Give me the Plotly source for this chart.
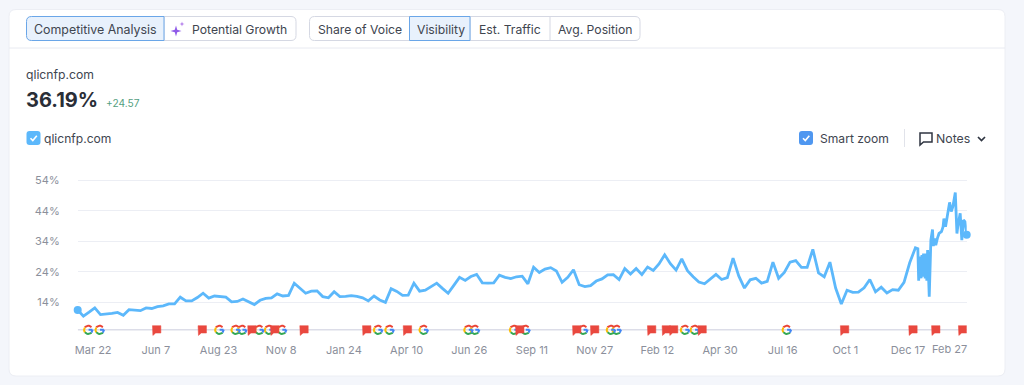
import math
import pandas as pd
import plotly.graph_objects as go

start_date = "2023-03-03"
weekly_values = [
 11.5,9.5,10.8,12.2,10,10.1,10.4,10.7,9.8,11.6,11.5,11.3,12.2,12,12.6,12.9,13.5,13.5,15.7,14.5,14.5,15.6,17,15.4,16.1,15.9,15.7,14.2,14.3,15.1,14.3,13.3,14.7,15.3,15.5,16.8,16.1,16.3,20.3,18.7,17,17.7,17.8,15.9,15.5,17.5,15.9,16,16.2,16,15.5,
 14.5,16.1,14.8,14,18.5,17.6,16.3,16.4,20.3,17.7,18,19.2,20.3,18.6,17,19.6,22.2,21.2,22.5,23.2,20.4,20.3,20.4,22.9,22.2,21.8,22.4,22.6,20.1,25.5,23.8,24.9,25.4,24.3,20.6,22.2,24.7,19.8,19.2,19.5,21,21.7,23,23.1,21.5,25.1,23.3,25.1,23.1,25.6,24.5,26.6,29.6,26.7,24.6,28.3,24.4,22.4,
 20.7,20.1,21.7,23.2,21.5,22.1,28.5,22.7,18.7,21.4,21.9,20.3,20.9,27.2,21.9,23.8,27.2,27.7,25.5,25.5,31.4,23.7,22.4,27.2,18.7,13.5,18,17.3,17.4,18.8,21.5,17.5,19,17.1,18.2,18,20.6,27,31.9]
recent_anchor = "2025-12-29"
recent_days = [0,1,2,4,5,6,7,9,10,11,12,14,16,18,19,21,22,24,26,29,31,32,34,36,38,39,41,43,46,48,49,52,54,56,58,60]
recent_values = [31.6,21.1,29,21.9,29.5,22.4,30,21.9,30,21.1,31.2,15.9,34.4,37.9,32.5,35,32.8,35,36.6,37.2,38.8,41.5,38.8,42,46.5,46.8,43.8,45.4,50,36.6,38.8,43.2,34.4,41,40.4,36.19]

tick_dates = ["2023-03-22","2023-06-07","2023-08-23","2023-11-08","2024-01-24","2024-04-10","2024-06-26","2024-09-11","2024-11-27","2025-02-12","2025-04-30","2025-07-16","2025-10-01","2025-12-17"]
tick_labels = ["Mar 22","Jun 7","Aug 23","Nov 8","Jan 24","Apr 10","Jun 26","Sep 11","Nov 27","Feb 12","Apr 30","Jul 16","Oct 1","Dec 17"]
y_ticks = [14,24,34,44,54]
y_labels = ["14%","24%","34%","44%","54%"]
google_dates = ["2023-03-16","2023-03-30","2023-08-24","2023-09-13","2023-09-21","2023-10-12","2023-10-24","2023-11-09","2024-03-06","2024-03-20","2024-05-01","2024-06-25","2024-07-03","2024-08-20","2024-09-03","2024-11-13","2024-12-17","2024-12-24","2025-03-18","2025-03-30","2025-07-21"]
note_dates = ["2023-06-08","2023-08-03","2023-10-03","2023-10-31","2023-12-06","2024-02-21","2024-04-11","2024-08-27","2024-11-05","2024-11-27","2025-02-05","2025-02-23","2025-03-04","2025-04-08","2025-09-30","2025-12-23","2026-01-20","2026-02-22"]
marker_level = 5

W, H = 1024, 385
BLUE = "#5cb8fb"
PX_PER_DAY, PX_PER_PCT = 0.814, 3.05
P = lambda x: x / W
Q = lambda y: 1 - y / H

dates = list(pd.date_range(start_date, periods=len(weekly_values), freq="7D"))
dates += [pd.Timestamp(recent_anchor) + pd.Timedelta(days=d) for d in recent_days]
values = weekly_values + recent_values

def icon_xy(date, dx, dy):
    return pd.Timestamp(date) + pd.Timedelta(days=dx / PX_PER_DAY), marker_level - dy / PX_PER_PCT

fig = go.Figure()
# baseline
fig.add_trace(go.Scatter(x=[dates[0], pd.Timestamp("2026-02-27")], y=[marker_level] * 2, mode="lines",
                         line=dict(color="#dcdde8", width=1.5), hoverinfo="skip"))
# Google marks
arcs = {"#ea4335": (40, 145), "#fbbc05": (145, 215), "#34a853": (215, 320), "#4285f4": (320, 362)}
R = 4.2
for col, (a0, a1) in arcs.items():
    xs, ys = [], []
    for d in google_dates:
        for i in range(9):
            t = math.radians(a0 + (a1 - a0) * i / 8)
            px, py = icon_xy(d, R * math.cos(t), -R * math.sin(t))
            xs.append(px); ys.append(py)
        if col == "#4285f4":
            px, py = icon_xy(d, R, 0); xs.append(px); ys.append(py)
            px, py = icon_xy(d, 0.3, 0); xs.append(px); ys.append(py)
        xs.append(None); ys.append(None)
    fig.add_trace(go.Scatter(x=xs, y=ys, mode="lines", line=dict(color=col, width=2), hoverinfo="skip", connectgaps=False))
# Notes flags
bubble = [(-4.2, -4.2), (4.2, -4.2), (4.2, 3.2), (-1, 3.2), (-3.8, 5.6), (-3.8, 3.2), (-4.2, 3.2), (-4.2, -4.2)]
xs, ys = [], []
for d in note_dates:
    for dx, dy in bubble:
        px, py = icon_xy(d, dx, dy)
        xs.append(px); ys.append(py)
    xs.append(None); ys.append(None)
fig.add_trace(go.Scatter(x=xs, y=ys, mode="lines", fill="toself", fillcolor="#e9483f",
                         line=dict(color="#e9483f", width=0.5), hoverinfo="skip"))
# Main series
fig.add_trace(go.Scatter(x=dates, y=values, mode="lines", line=dict(color=BLUE, width=2.8, shape="linear"), name="qlicnfp.com"))
fig.add_trace(go.Scatter(x=[dates[0], dates[-1]], y=[values[0], values[-1]], mode="markers",
                         marker=dict(color=BLUE, size=8), cliponaxis=False, hoverinfo="skip"))

def rrect(x0, y0, x1, y1, r=(5, 5, 5, 5)):
    tl, tr, br, bl = r
    return (f"M {P(x0+tl)} {Q(y0)} L {P(x1-tr)} {Q(y0)} Q {P(x1)} {Q(y0)} {P(x1)} {Q(y0+tr)} "
            f"L {P(x1)} {Q(y1-br)} Q {P(x1)} {Q(y1)} {P(x1-br)} {Q(y1)} "
            f"L {P(x0+bl)} {Q(y1)} Q {P(x0)} {Q(y1)} {P(x0)} {Q(y1-bl)} "
            f"L {P(x0)} {Q(y0+tl)} Q {P(x0)} {Q(y0)} {P(x0+tl)} {Q(y0)} Z")

def path(pts, close=False):
    s = " ".join(("M" if i == 0 else "L") + f" {P(x)} {Q(y)}" for i, (x, y) in enumerate(pts))
    return s + (" Z" if close else "")

shapes = []
def add(p, fill=None, line=None, w=1):
    shapes.append(dict(type="path", path=p, xref="paper", yref="paper", layer="below",
                       fillcolor=fill or "rgba(0,0,0,0)", line=dict(color=line or "rgba(0,0,0,0)", width=w)))

add(rrect(9, 9.5, 1005, 376, (7, 7, 7, 7)), fill="#ffffff", line="#eceef4")
add(path([(9, 48), (1005, 48)]), line="#e8eaf1")
# button groups
BORDER, SEL, SELB = "#d5d8e3", "#e8f1fc", "#6aa6e8"
add(rrect(164, 16.5, 296, 40.5, (0, 5, 5, 0)), fill="#fff", line=BORDER)
add(rrect(26.5, 16.5, 164, 40.5, (5, 0, 0, 5)), fill=SEL, line=SELB)
add(rrect(309.5, 16.5, 640, 40.5), fill="#fff", line=BORDER)
add(path([(550, 16.5), (550, 40.5)]), line=BORDER)
add(path([(470, 16.5), (470, 40.5)]), line=BORDER)
add(rrect(409.5, 16.5, 470, 40.5, (0, 0, 0, 0)), fill=SEL, line=SELB)
# sparkles

def star(cx, cy, r):
    k = r * 0.22
    return path([(cx, cy - r), (cx + k, cy - k), (cx + r, cy), (cx + k, cy + k), (cx, cy + r), (cx - k, cy + k), (cx - r, cy), (cx - k, cy - k)], True)
add(star(176, 31, 5.5), fill="#8f5ae8")
add(star(182, 24, 2.6), fill="#a86be8")
# checkboxes
add(rrect(26.5, 131, 40.5, 145, (3, 3, 3, 3)), fill=BLUE)
add(path([(30.5, 138.3), (32.8, 140.6), (36.8, 135.8)]), line="#fff", w=1.6)
add(rrect(799, 131, 813, 145, (3, 3, 3, 3)), fill="#4f97f0")
add(path([(803, 138.3), (805.3, 140.6), (809.3, 135.8)]), line="#fff", w=1.6)
add(path([(904.5, 129), (904.5, 147)]), line="#e1e3ea")
# notes icon and chevron
add(path([(920, 133), (932, 133), (932, 142), (923.5, 142), (920, 145)], True), line="#2f3541", w=1.5)
add(path([(978, 137), (981.5, 140.5), (985, 137)]), line="#2f3541", w=1.7)
fig.update_layout(shapes=shapes)

TXT = "#40454f"
texts = [
 ("Competitive Analysis", 95, 29, 12.4, TXT, "center"),
 ("Potential Growth", 239.5, 29, 12.2, TXT, "center"),
 ("Share of Voice", 360, 29, 12.2, TXT, "center"),
 ("Visibility", 441, 29, 12.2, TXT, "center"),
 ("Est. Traffic", 510, 29, 12.2, TXT, "center"),
 ("Avg. Position", 595, 29, 12.2, TXT, "center"),
 ("qlicnfp.com", 24, 75, 12.2, TXT, "left"),
 ("<b>36.19%</b>", 24, 100, 20, "#2a2e37", "left"),
 ("+24.57", 104, 103, 10.2, "#54a07f", "left"),
 ("qlicnfp.com", 42, 138, 12.1, TXT, "left"),
 ("Smart zoom", 818, 138, 12.1, TXT, "left"),
 ("Notes", 934, 138, 12.3, TXT, "left"),
]
ann = [dict(text=t, x=P(x), y=Q(y), xref="paper", yref="paper", xanchor=a, yanchor="middle",
            showarrow=False, font=dict(family="Inter", size=s, color=c)) for t, x, y, s, c, a in texts]
ann.append(dict(text="Feb 27", x="2026-02-27", y=Q(349), xref="x", yref="paper", xanchor="right", yanchor="middle",
                showarrow=False, xshift=2, font=dict(family="Inter", size=11, color="#8b8f9b")))
fig.update_layout(annotations=ann)

y_top_px, y_bot_px = 170, 338
fig.update_layout(
    width=W, height=H, autosize=False, margin=dict(l=0, r=0, t=0, b=0, pad=0),
    paper_bgcolor="#f4f6fb", plot_bgcolor="rgba(0,0,0,0)", showlegend=False,
    font=dict(family="Inter", size=11, color="#8b8f9b"),
    xaxis=dict(domain=[77.7 / W, 966.7 / W], type="date", range=["2023-03-03", "2026-02-27"], tickvals=tick_dates, ticktext=tick_labels,
               showgrid=False, zeroline=False, showline=False, ticks="", ticklabelstandoff=4, automargin=False,
               tickfont=dict(family="Inter", size=11, color="#8b8f9b")),
    yaxis=dict(domain=[Q(y_bot_px), Q(y_top_px)], range=[14 - (y_bot_px - 302.4) / PX_PER_PCT, 14 + (302.4 - y_top_px) / PX_PER_PCT],
               tickvals=y_ticks, ticktext=y_labels, showgrid=True, gridcolor="#eceef4", gridwidth=1,
               zeroline=False, showline=False, ticks="", ticklabelstandoff=17, automargin=False,
               tickfont=dict(family="Inter", size=11, color="#8b8f9b")),
)
fig.write_html("out.html", config={"displayModeBar": False},
               post_script="document.body.style.margin='0';document.body.style.overflow='hidden';")
